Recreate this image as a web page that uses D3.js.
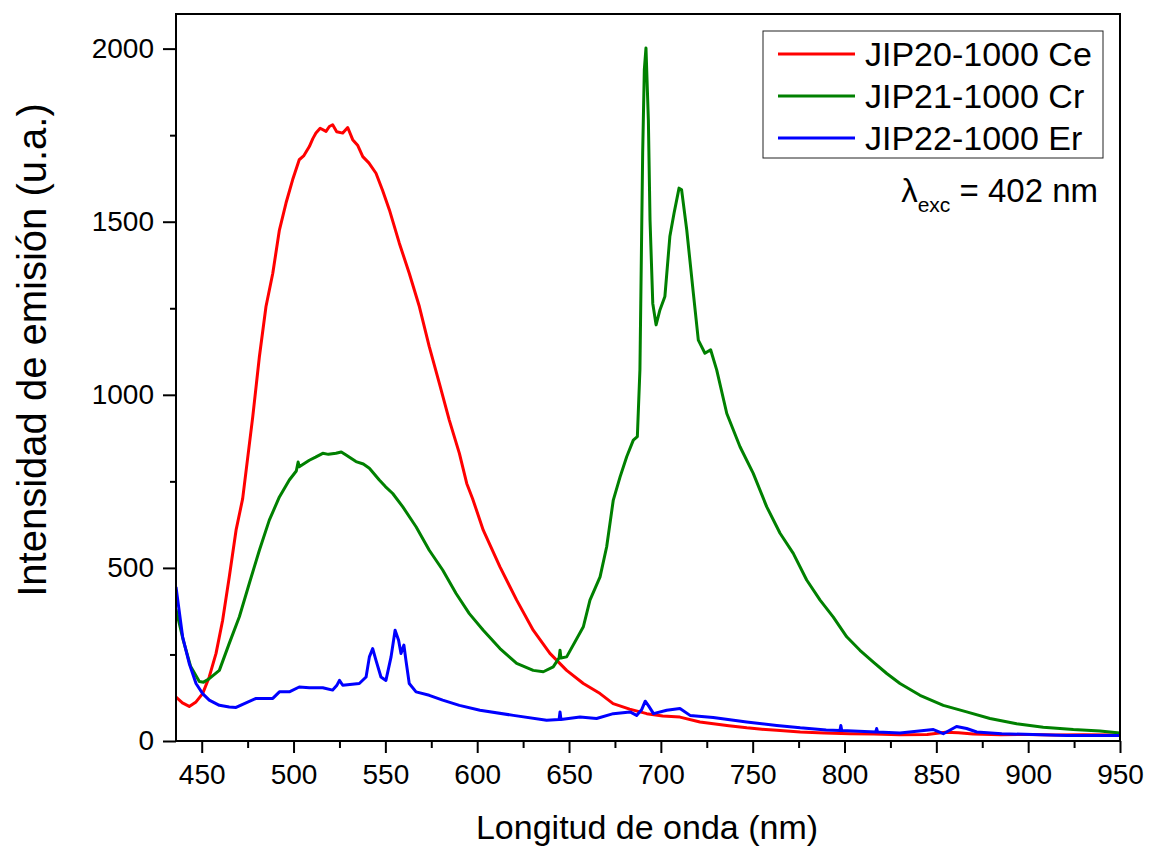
<!DOCTYPE html>
<html>
<head>
<meta charset="utf-8">
<script src="https://cdn.jsdelivr.net/npm/d3@7"></script>
<style>
  html, body { margin: 0; padding: 0; background: #fff; }
  svg { display: block; font-family: "Liberation Sans", Arial, sans-serif; }
</style>
</head>
<body>
<svg id="chart" width="1149" height="848"></svg>
<script>
// ---- data (wavelength nm, intensity a.u.) ----
const seriesNames = ["JIP20-1000 Ce", "JIP21-1000 Cr", "JIP22-1000 Er"];
const seriesColors = ["#ff0000", "#008000", "#0000ff"];

const ceWavelength = [436, 439.5, 443.2, 446.9, 450.5, 454.1, 457.8, 461.4, 465, 468.7, 472.3, 477.8, 481.4, 485, 488.7, 492.3, 495.9, 499.5, 503.1, 505.5, 508.6, 510.5, 512.2, 514.5, 517.7, 519.5, 521.3, 523.5, 526.8, 529.5, 532.2, 535, 537.7, 541, 544.9, 548.5, 552.2, 557.6, 563, 568.5, 573.9, 579.4, 584.8, 590.3, 594.3, 597.5, 603.3, 612.4, 621.5, 630.5, 639.6, 648.7, 657.8, 666.9, 674, 683, 692.3, 701, 710.4, 721.3, 728.6, 737, 746.8, 755, 763.1, 775.9, 789, 803, 816, 830, 845, 855, 862, 870, 885, 900, 915, 930, 950];
const ceValues     = [127, 110, 100, 113, 137, 185, 253, 349, 474, 609, 700, 937, 1110, 1255, 1351, 1476, 1554, 1621, 1679, 1690, 1717, 1740, 1756, 1770, 1761, 1775, 1780, 1760, 1756, 1772, 1737, 1720, 1688, 1670, 1640, 1590, 1534, 1438, 1351, 1255, 1139, 1033, 927, 831, 744, 700, 609, 503, 407, 320, 253, 204, 166, 137, 108, 92, 79, 72, 69, 55, 50, 44, 38, 34, 31, 26, 23, 21, 20, 18, 19, 25, 24, 20, 18, 19, 17, 18, 17];

const crWavelength = [436, 440, 444, 448.7, 451, 454.1, 459.6, 465, 470.5, 475.9, 481.4, 486.8, 492.3, 497.7, 501.5, 502.5, 503.1, 508.6, 512, 515.9, 519, 523.1, 526, 528.6, 534, 538, 541.3, 546.7, 550, 554, 559.4, 566.7, 573.9, 581.2, 588.5, 595.7, 603.3, 612.4, 621.5, 630.5, 636, 641.4, 644.6, 645.1, 645.6, 648.7, 657.8, 661.4, 666.9, 670.5, 674.1, 677.8, 681.4, 685, 687.2, 688.6, 690.1, 691, 691.9, 693.2, 694.1, 695.6, 697.4, 699.5, 702.2, 704.9, 707.2, 709.9, 711.3, 714.1, 717.7, 720.4, 724, 727.1, 730.4, 735.9, 743.1, 750.3, 757.6, 764.9, 772.1, 779.4, 786.7, 793.9, 801.2, 808.4, 815.7, 823, 830.2, 841.1, 853.8, 866.5, 879.2, 893.7, 908.2, 924.6, 939.1, 950];
const crValues     = [380, 290, 215, 172, 170, 180, 204, 282, 359, 455, 551, 638, 705, 754, 780, 806, 792, 811, 820, 831, 828, 831, 835, 826, 807, 800, 788, 754, 735, 715, 677, 619, 551, 494, 426, 368, 320, 267, 224, 204, 200, 214, 240, 262, 240, 243, 330, 407, 474, 561, 696, 763, 821, 869, 879, 1072, 1699, 1939, 2002, 1794, 1505, 1264, 1202, 1245, 1284, 1457, 1525, 1597, 1592, 1476, 1293, 1158, 1120, 1130, 1072, 946, 850, 773, 677, 600, 542, 465, 407, 358, 301, 262, 228, 195, 166, 132, 103, 84, 65, 50, 40, 33, 29, 23];

const erWavelength = [436, 439.6, 443.2, 446.9, 450.5, 454.1, 459.6, 465, 468.7, 472.3, 479.6, 488.7, 492.3, 497.7, 503.1, 508.6, 515.9, 521.3, 523.5, 525, 526.8, 535.8, 539.5, 541.3, 543.1, 544.9, 547.6, 550.3, 553.1, 555.3, 557.2, 558.5, 560.1, 561.2, 563, 566.7, 573.9, 581.2, 590.3, 601.5, 619.7, 637.8, 644.6, 645.1, 645.6, 656, 665, 674.1, 683.2, 686.8, 689.5, 691.5, 693.5, 696, 703.2, 710.4, 715.9, 728.5, 746.7, 763.1, 775.9, 790, 797.5, 798, 798.5, 817, 817.5, 818, 830.2, 848.4, 853.8, 861, 866.5, 872, 885.6, 921, 950];
const erValues     = [445, 301, 224, 166, 137, 118, 103, 98, 97, 106, 123, 123, 142, 142, 156, 154, 154, 147, 160, 175, 161, 166, 185, 243, 267, 233, 185, 175, 243, 320, 291, 253, 277, 233, 166, 142, 132, 118, 103, 89, 74, 60, 62, 84, 62, 69, 65, 79, 84, 74, 90, 115, 100, 79, 89, 94, 74, 68, 55, 45, 38, 32, 30, 45, 30, 26, 36, 26, 23, 33, 21, 42, 36, 26, 21, 16, 16];

const xTicks = [450, 500, 550, 600, 650, 700, 750, 800, 850, 900, 950];
const yTicks = [0, 500, 1000, 1500, 2000];
const xLabel = "Longitud de onda (nm)";
const yLabel = "Intensidad de emisión (u.a.)";

// ---- layout ----
const svg = d3.select("#chart");
const L = 176, T = 14, R = 1120, B = 741;

const x = d3.scaleLinear().domain([436, 950]).range([L, R]);
const y = d3.scaleLinear().domain([0, 2100]).range([B, T]);

const series = [
  { name: seriesNames[0], color: seriesColors[0], pts: ceWavelength.map((w, i) => [w, ceValues[i]]) },
  { name: seriesNames[1], color: seriesColors[1], pts: crWavelength.map((w, i) => [w, crValues[i]]) },
  { name: seriesNames[2], color: seriesColors[2], pts: erWavelength.map((w, i) => [w, erValues[i]]) }
];

svg.append("defs").append("clipPath").attr("id", "clip")
  .append("rect").attr("x", L).attr("y", T).attr("width", R - L).attr("height", B - T);

const line = d3.line().x(d => x(d[0])).y(d => y(d[1]));
const g = svg.append("g").attr("clip-path", "url(#clip)");
series.forEach(s => {
  g.append("path").datum(s.pts).attr("d", line)
    .attr("fill", "none").attr("stroke", s.color).attr("stroke-width", 3)
    .attr("stroke-linejoin", "round");
});

// frame
svg.append("rect").attr("x", L).attr("y", T).attr("width", R - L).attr("height", B - T)
  .attr("fill", "none").attr("stroke", "#000").attr("stroke-width", 2);

// axes
const tickFont = 28;
const xMinor = d3.range(475, 950, 50);
const yMinor = d3.range(250, 2100, 500);

const xAxis = svg.append("g").attr("transform", `translate(0,${B})`)
  .call(d3.axisBottom(x).tickValues(xTicks).tickSize(12).tickPadding(11).tickFormat(d3.format("d")));
const xAxisMinor = svg.append("g").attr("transform", `translate(0,${B})`)
  .call(d3.axisBottom(x).tickValues(xMinor).tickSize(7).tickFormat(""));
const yAxis = svg.append("g").attr("transform", `translate(${L},0)`)
  .call(d3.axisLeft(y).tickValues(yTicks).tickSize(13).tickPadding(9).tickFormat(d3.format("d")));
const yAxisMinor = svg.append("g").attr("transform", `translate(${L},0)`)
  .call(d3.axisLeft(y).tickValues(yMinor).tickSize(6).tickFormat(""));

[xAxis, xAxisMinor, yAxis, yAxisMinor].forEach(a => {
  a.select(".domain").remove();
  a.selectAll("line").attr("stroke", "#000").attr("stroke-width", 2);
  a.selectAll("text").attr("fill", "#000").style("font-size", tickFont + "px")
    .style("font-family", '"Liberation Sans", Arial, sans-serif');
});

// axis titles
svg.append("text").attr("x", 647).attr("y", 839).attr("text-anchor", "middle")
  .style("font-size", "34px").text(xLabel);
svg.append("text").attr("transform", `translate(46,350) rotate(-90)`)
  .attr("text-anchor", "middle").style("font-size", "40px").text(yLabel);

// legend
const lg = svg.append("g");
lg.append("rect").attr("x", 763).attr("y", 31).attr("width", 340).attr("height", 127)
  .attr("fill", "#fff").attr("stroke", "#222").attr("stroke-width", 1);
const rowsY = [54, 96, 138];
series.forEach((s, i) => {
  lg.append("line").attr("x1", 778).attr("x2", 855).attr("y1", rowsY[i]).attr("y2", rowsY[i])
    .attr("stroke", s.color).attr("stroke-width", 3);
  lg.append("text").attr("x", 865).attr("y", rowsY[i] + 12).style("font-size", "34px").text(s.name);
});

// annotation
const ann = svg.append("text").attr("x", 1098).attr("y", 202).attr("text-anchor", "end").style("font-size", "33px");
ann.append("tspan").text("λ");
ann.append("tspan").attr("dy", 10).style("font-size", "21px").text("exc");
ann.append("tspan").attr("dy", -10).text(" = 402 nm");
</script>
</body>
</html>
